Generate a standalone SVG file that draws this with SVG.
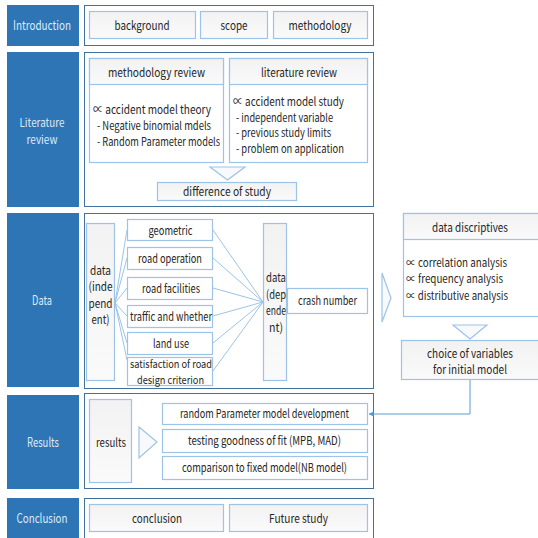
<svg xmlns="http://www.w3.org/2000/svg" width="538" height="538" viewBox="0 0 538 538">
<defs>
<linearGradient id="g" x1="0" y1="0" x2="0" y2="1">
<stop offset="0" stop-color="#F2F2F2"/><stop offset="1" stop-color="#FAFAFA"/>
</linearGradient>
<marker id="ah" viewBox="0 0 10 10" refX="9" refY="5" markerWidth="5" markerHeight="5" orient="auto">
<path d="M0,0 L10,5 L0,10 z" fill="#5B9BD5"/>
</marker>
<style>
text{font-family:"Noto Sans CJK KR","Liberation Sans",sans-serif;font-size:12px;fill:#262626;text-anchor:middle}
.sec{fill:#2E75B6}
.sect{fill:#DDEBF7;font-size:13px}
.pan{fill:#fff;stroke:#41719C;stroke-width:1}
.bx{fill:url(#g);stroke:#9DC3E6;stroke-width:1.2}
.wb{fill:#fff;stroke:#9DC3E6;stroke-width:1.2}
.l{text-anchor:start;font-size:11.5px}
.s{font-size:11px}
.ln{stroke:#9DC3E6;stroke-width:1;fill:none}
.tri{fill:#F7F9FC;stroke:#9DC3E6;stroke-width:1.2}
</style>
</defs>

<g id="sections">
<rect class="sec" x="7" y="5" width="72" height="41"/>
<text class="sect" x="42" y="30" textLength="58" lengthAdjust="spacingAndGlyphs">Introduction</text>
<rect class="sec" x="7" y="52" width="72" height="155"/>
<text class="sect" x="42" y="127" textLength="45" lengthAdjust="spacingAndGlyphs" style="font-size:11.5px">Literature</text>
<text class="sect" x="42" y="144" textLength="31" lengthAdjust="spacingAndGlyphs" style="font-size:11.5px">review</text>
<rect class="sec" x="7" y="213" width="72" height="174"/>
<text class="sect" x="42" y="305" textLength="20" lengthAdjust="spacingAndGlyphs">Data</text>
<rect class="sec" x="7" y="395" width="72" height="94"/>
<text class="sect" x="43" y="447" textLength="32" lengthAdjust="spacingAndGlyphs">Results</text>
<rect class="sec" x="7" y="498" width="72" height="42"/>
<text class="sect" x="42" y="523" textLength="51" lengthAdjust="spacingAndGlyphs">Conclusion</text>
</g>

<g id="panels">
<rect class="pan" x="84.5" y="5.5" width="289" height="40"/>
<rect class="pan" x="84.5" y="52.5" width="289" height="154"/>
<rect class="pan" x="84.5" y="213.5" width="289" height="175"/>
<rect class="pan" x="84.5" y="393.5" width="289" height="95"/>
<rect class="pan" x="84.5" y="498.5" width="289" height="45"/>
</g>

<g id="intro">
<g id="background"><rect class="bx" x="89.5" y="11.5" width="106" height="27"/><text x="142" y="30" textLength="55" lengthAdjust="spacingAndGlyphs">background</text></g>
<g id="scope"><rect class="bx" x="200.5" y="11.5" width="67" height="27"/><text x="234" y="30" textLength="27" lengthAdjust="spacingAndGlyphs">scope</text></g>
<g id="methodology"><rect class="bx" x="273.5" y="11.5" width="94" height="27"/><text x="320" y="30" textLength="63" lengthAdjust="spacingAndGlyphs">methodology</text></g>
</g>

<g id="litreview">
<g id="methodology-review">
<rect class="wb" x="89.5" y="58.5" width="134" height="104"/>
<rect class="bx" x="89.5" y="58.5" width="134" height="26"/>
<text x="156.5" y="77" textLength="97" lengthAdjust="spacingAndGlyphs">methodology review</text>
<text class="l" x="93" y="114" textLength="118" lengthAdjust="spacingAndGlyphs" style="font-size:12px">∝ accident model theory</text>
<text class="l" x="97" y="130" textLength="114" lengthAdjust="spacingAndGlyphs">- Negative binomial mdels</text>
<text class="l" x="97" y="146" textLength="123" lengthAdjust="spacingAndGlyphs">- Random Parameter models</text>
</g>
<g id="literature-review">
<rect class="wb" x="229.5" y="58.5" width="138" height="104"/>
<rect class="bx" x="229.5" y="58.5" width="138" height="26"/>
<text x="299" y="77" textLength="76" lengthAdjust="spacingAndGlyphs">literature review</text>
<text class="l" x="233" y="106" textLength="111" lengthAdjust="spacingAndGlyphs" style="font-size:12px">∝ accident model study</text>
<text class="l" x="236" y="121.5" textLength="97" lengthAdjust="spacingAndGlyphs">- independent variable</text>
<text class="l" x="236" y="137" textLength="95" lengthAdjust="spacingAndGlyphs">- previous study limits</text>
<text class="l" x="236" y="153" textLength="108" lengthAdjust="spacingAndGlyphs">- problem on application</text>
</g>
<polygon class="tri" points="210,167 245,167 227.5,180"/>
<g id="difference"><rect class="bx" x="157.5" y="182.5" width="139" height="18"/><text x="227" y="196" textLength="88" lengthAdjust="spacingAndGlyphs">difference of study</text></g>
</g>

<g id="connectors">
<path class="ln" d="M115,303 L127,230 M115,303 L127,258 M115,303 L127,288 M115,303 L127,316 M115,303 L127,343 M115,303 L127,360"/>
<path class="ln" d="M213,230 L263,302 M213,258 L263,302 M213,288 L263,302 M213,316 L263,302 M213,343 L263,302 M213,371 L263,302"/>
<path d="M470,380 V414 H369" fill="none" stroke="#5B9BD5" stroke-width="1" marker-end="url(#ah)"/>
</g>

<g id="data">
<g id="indep"><rect class="bx" x="86.5" y="223.5" width="28" height="157"/>
<text x="100.5" y="275" textLength="21" lengthAdjust="spacingAndGlyphs">data</text><text x="100.5" y="291" textLength="24" lengthAdjust="spacingAndGlyphs">(inde</text><text x="100.5" y="308" textLength="24" lengthAdjust="spacingAndGlyphs">pend</text><text x="100.5" y="324" textLength="18" lengthAdjust="spacingAndGlyphs">ent)</text></g>
<g id="geometric"><rect class="wb" x="127.5" y="219.5" width="85" height="21"/><text x="170.5" y="235" textLength="44" lengthAdjust="spacingAndGlyphs">geometric</text></g>
<g id="road-operation"><rect class="wb" x="127.5" y="247.5" width="85" height="22"/><text x="170" y="263" textLength="64" lengthAdjust="spacingAndGlyphs">road operation</text></g>
<g id="road-facilities"><rect class="wb" x="127.5" y="277.5" width="85" height="22"/><text x="171" y="293" textLength="58" lengthAdjust="spacingAndGlyphs">road facilities</text></g>
<g id="traffic"><rect class="wb" x="127.5" y="305.5" width="85" height="22"/><text x="171" y="321" textLength="82" lengthAdjust="spacingAndGlyphs">traffic and whether</text></g>
<g id="land-use"><rect class="wb" x="127.5" y="332.5" width="85" height="22"/><text x="171" y="348" textLength="36" lengthAdjust="spacingAndGlyphs">land use</text></g>
<g id="satisfaction"><rect class="wb" x="127.5" y="357.5" width="85" height="28"/><text class="s" x="171" y="368" textLength="82" lengthAdjust="spacingAndGlyphs">satisfaction of road</text><text class="s" x="170.5" y="384" textLength="67" lengthAdjust="spacingAndGlyphs">design criterion</text></g>
<g id="dep"><rect class="bx" x="263.5" y="223.5" width="23" height="157"/>
<text x="276" y="282" textLength="20" lengthAdjust="spacingAndGlyphs">data</text><text x="276" y="299" textLength="20" lengthAdjust="spacingAndGlyphs">(dep</text><text x="276" y="315" textLength="20" lengthAdjust="spacingAndGlyphs">ende</text><text x="276" y="332" textLength="14" lengthAdjust="spacingAndGlyphs">nt)</text></g>
<g id="crash"><rect class="wb" x="287.5" y="288.5" width="80" height="25"/><text x="327.5" y="305" textLength="59" lengthAdjust="spacingAndGlyphs">crash number</text></g>
<polygon class="tri" points="382,273 391,298 382,322"/>
</g>

<g id="descriptives">
<rect class="wb" x="403.5" y="213.5" width="140" height="103"/>
<rect class="bx" x="403.5" y="213.5" width="140" height="26"/>
<text x="470" y="232" textLength="76" lengthAdjust="spacingAndGlyphs">data discriptives</text>
<text class="l" x="406" y="267" textLength="101" lengthAdjust="spacingAndGlyphs">∝ correlation analysis</text>
<text class="l" x="406" y="283" textLength="97" lengthAdjust="spacingAndGlyphs">∝ frequency analysis</text>
<text class="l" x="406" y="300" textLength="102" lengthAdjust="spacingAndGlyphs">∝ distributive analysis</text>
</g>
<polygon class="tri" points="453,325 487,325 470,339"/>
<g id="choice"><rect class="bx" x="401.5" y="340.5" width="142" height="39"/>
<text x="470" y="358" textLength="86" lengthAdjust="spacingAndGlyphs">choice of variables</text><text x="470" y="374" textLength="74" lengthAdjust="spacingAndGlyphs">for initial model</text></g>

<g id="results">
<g id="results-box"><rect class="bx" x="89.5" y="399.5" width="42" height="83"/><text x="111" y="447" textLength="30" lengthAdjust="spacingAndGlyphs">results</text></g>
<polygon class="tri" points="139,427 157,442 139,458"/>
<g id="rp"><rect class="wb" x="162.5" y="403.5" width="205" height="21"/><text x="264.5" y="418" textLength="169" lengthAdjust="spacingAndGlyphs">random Parameter model development</text></g>
<g id="gof"><rect class="wb" x="162.5" y="429.5" width="205" height="23"/><text x="264.5" y="445" textLength="153" lengthAdjust="spacingAndGlyphs">testing goodness of fit (MPB, MAD)</text></g>
<g id="comp"><rect class="wb" x="162.5" y="456.5" width="205" height="23"/><text x="264.5" y="472" textLength="165" lengthAdjust="spacingAndGlyphs">comparison to fixed model(NB model)</text></g>
</g>

<g id="conclusion">
<g id="concl"><rect class="bx" x="89.5" y="504.5" width="134" height="27"/><text x="157" y="523" textLength="50" lengthAdjust="spacingAndGlyphs">conclusion</text></g>
<g id="future"><rect class="bx" x="229.5" y="504.5" width="138" height="27"/><text x="298.5" y="523" textLength="59" lengthAdjust="spacingAndGlyphs">Future study</text></g>
</g>
</svg>
